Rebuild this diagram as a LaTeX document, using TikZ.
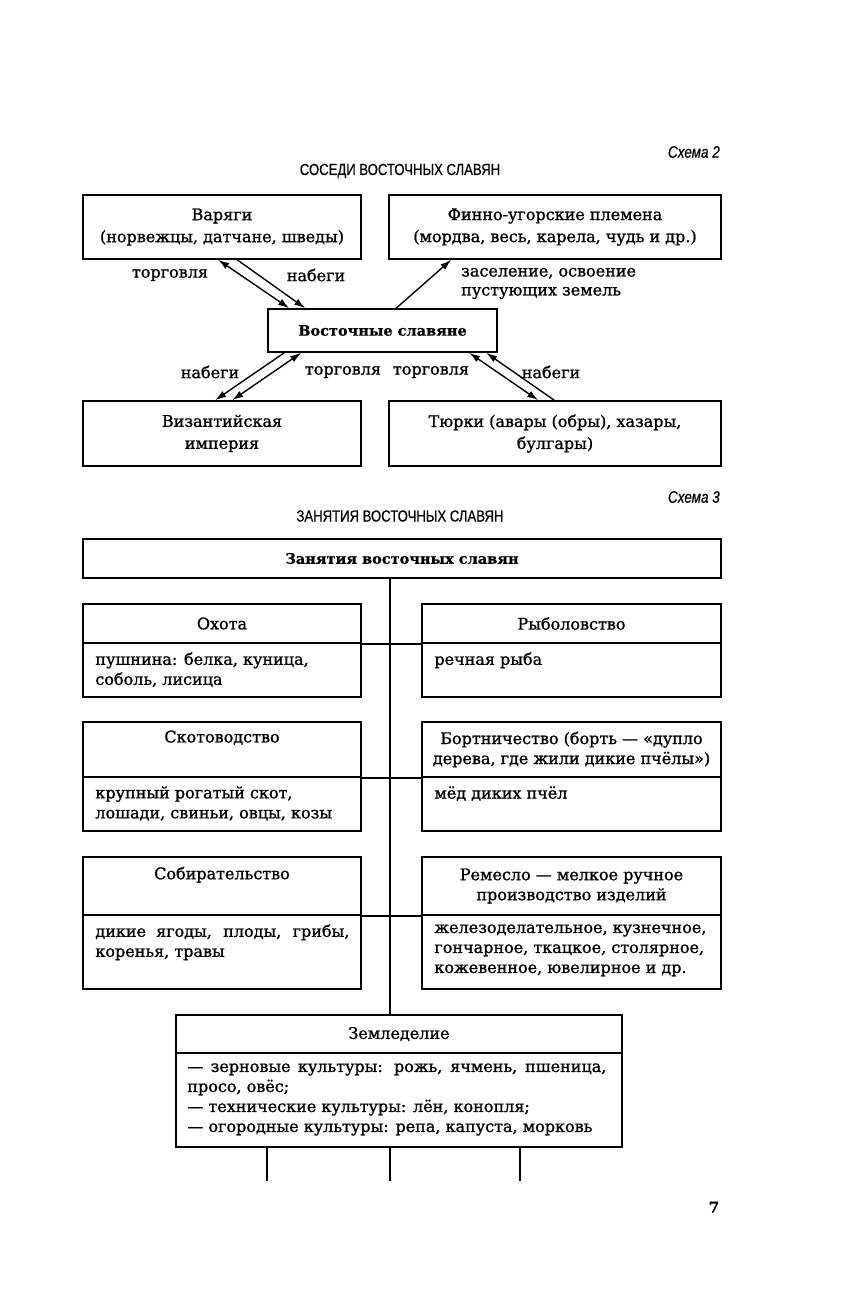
\documentclass[tikz,border=0pt]{standalone}
\usepackage{fontspec}
\setmainfont[FakeBold=1.2]{DejaVu Serif}
\newfontfamily\boldser[FakeBold=0.6]{DejaVu Serif Bold}
\newfontfamily\headfont[FakeStretch=0.82,FakeBold=0.6]{Liberation Sans}
\usetikzlibrary{arrows.meta,calc}
\begin{document}
\begin{tikzpicture}[x=1pt,y=-1pt,
  box/.style={draw, line width=1.6pt, inner sep=0pt, align=center,
    font=\fontsize{16}{20}\selectfont},
  btxt/.style={inner sep=0pt, align=left, anchor=north west,
    font=\fontsize{16}{20}\selectfont},
  bb/.style={font=\boldser\fontsize{14.5}{20}\selectfont},
  lbl/.style={inner sep=0pt, font=\fontsize{16}{19}\selectfont},
  ttl/.style={inner sep=0pt, font=\headfont\fontsize{16}{18}\selectfont},
  sch/.style={inner sep=0pt, anchor=east, font=\headfont\itshape\fontsize{16.5}{18}\selectfont},
  arr/.style={line width=1.4pt, -{Latex[length=11pt,width=7pt]}},
  darr/.style={line width=1.4pt, {Latex[length=11pt,width=7pt]}-{Latex[length=11pt,width=7pt]}},
  ln/.style={line width=1.6pt}
]
\useasboundingbox (0,0) rectangle (844,1310);

% ---------- Schema 2 ----------
\node[sch] (s2) at (720,152) {Схема 2};
\node[ttl] (t2) at (400,171) {СОСЕДИ ВОСТОЧНЫХ СЛАВЯН};

\node[box, minimum width=278pt, minimum height=64pt, font=\fontsize{16}{22}\selectfont] (var) at (222,227)
  {Варяги\\(норвежцы, датчане, шведы)};
\node[box, minimum width=332pt, minimum height=64pt, font=\fontsize{16}{22}\selectfont] (fin) at (555,227)
  {Финно-угорские племена\\(мордва, весь, карела, чудь и др.)};
\node[box, bb, minimum width=229pt, minimum height=43pt] (vs) at (382.5,330.5)
  {Восточные славяне};
\node[box, minimum width=278pt, minimum height=65pt, font=\fontsize{16}{22}\selectfont] (viz) at (222,433.5)
  {Византийская\\империя};
\node[box, minimum width=332pt, minimum height=65pt, font=\fontsize{16}{22}\selectfont] (tyu) at (555,433.5)
  {Тюрки (авары (обры), хазары,\\булгары)};

% arrows
\draw[darr] ([xshift=136pt]var.south west) -- ([xshift=22pt]vs.north west);
\draw[arr]  ([xshift=155pt]var.south west) -- ([xshift=38pt]vs.north west);
\draw[arr]  ([xshift=129pt]vs.north west) -- ([xshift=63pt]fin.south west);
\draw[arr]  ([xshift=17pt]vs.south west) -- ([xshift=133pt]viz.north west);
\draw[darr] ([xshift=34pt]vs.south west) -- ([xshift=150pt]viz.north west);
\draw[darr] ([xshift=202pt]vs.south west) -- ([xshift=150pt]tyu.north west);
\draw[arr]  ([xshift=166pt]tyu.north west) -- ([xshift=219pt]vs.south west);

\node[lbl] (l1) at (170,275) {торговля};
\node[lbl] (l2) at (316,275) {набеги};
\node[lbl, anchor=west, align=left] (l3) at (461,283.5) {заселение, освоение\\пустующих земель};
\node[lbl] (l4) at (210,372) {набеги};
\node[lbl] (l5) at (343,372) {торговля};
\node[lbl] (l6) at (431,372) {торговля};
\node[lbl] (l7) at (551,372) {набеги};

% ---------- Schema 3 ----------
\node[sch] (s3) at (720,497) {Схема 3};
\node[ttl] (t3) at (400,516) {ЗАНЯТИЯ ВОСТОЧНЫХ СЛАВЯН};

\node[box, bb, minimum width=638pt, minimum height=39pt] (zan) at (402,558.5) {Занятия восточных славян};

% Okhota
\node[box, minimum width=278pt, minimum height=39pt] (okhh) at (222,623.5) {Охота};
\node[box, minimum width=278pt, minimum height=54pt] (okhc) at (222,670) {};
\node[btxt] (okht) at ([xshift=13pt,yshift=-10pt]okhc.north west) {пушнина: белка, куница,\\соболь, лисица};
% Rybolovstvo
\node[box, minimum width=299pt, minimum height=39pt] (rybh) at (571.5,623.5) {Рыболовство};
\node[box, minimum width=299pt, minimum height=54pt] (rybc) at (571.5,670) {};
\node[btxt] (rybt) at ([xshift=13pt,yshift=-10pt]rybc.north west) {речная рыба};
% Skotovodstvo
\node[box, minimum width=278pt, minimum height=55pt] (skoh) at (222,749.5) {Скотоводство\\\strut};
\node[box, minimum width=278pt, minimum height=54pt] (skoc) at (222,804) {};
\node[btxt] (skot) at ([xshift=13pt,yshift=-10pt]skoc.north west) {крупный рогатый скот,\\лошади, свиньи, овцы, козы};
% Bortnichestvo
\node[box, minimum width=299pt, minimum height=55pt] (borh) at (571.5,749.5) {Бортничество (борть — «дупло\\дерева, где жили дикие пчёлы»)};
\node[box, minimum width=299pt, minimum height=54pt] (borc) at (571.5,804) {};
\node[btxt] (bort) at ([xshift=13pt,yshift=-10pt]borc.north west) {мёд диких пчёл};
% Sobiratelstvo
\node[box, minimum width=278pt, minimum height=58pt] (sobh) at (222,886) {Собирательство\\\strut};
\node[box, minimum width=278pt, minimum height=74pt] (sobc) at (222,952) {};
\node[btxt] (sobt) at ([xshift=13pt,yshift=-10pt]sobc.north west) {\makebox[254pt][s]{дикие ягоды, плоды, грибы,}\\коренья, травы};
% Remeslo
\node[box, minimum width=299pt, minimum height=58pt] (remh) at (571.5,886) {Ремесло — мелкое ручное\\производство изделий};
\node[box, minimum width=299pt, minimum height=74pt] (remc) at (571.5,952) {};
\node[btxt] (remt) at ([xshift=13pt,yshift=-10pt]remc.north west) {железоделательное, кузнечное,\\гончарное, ткацкое, столярное,\\кожевенное, ювелирное и др.};
% Zemledelie
\node[box, minimum width=446pt, minimum height=38pt] (zemh) at (399,1034) {Земледелие};
\node[box, minimum width=446pt, minimum height=94pt] (zemc) at (399,1100) {};
\node[btxt] (zemt) at ([xshift=12pt,yshift=-11pt]zemc.north west) {\makebox[419pt][s]{— зерновые культуры: рожь, ячмень, пшеница,}\\просо, овёс;\\— технические культуры: лён, конопля;\\— огородные культуры: репа, капуста, морковь};

% connectors
\draw[ln] ([xshift=308pt]zan.south west) -- ([xshift=215pt]zemh.north west);
\draw[ln] (okhh.south east) -- (rybh.south west);
\draw[ln] (skoh.south east) -- (borh.south west);
\draw[ln] (sobh.south east) -- (remh.south west);
\coordinate (e1) at ([xshift=92pt,yshift=-33pt]zemc.south west);
\coordinate (e2) at ([xshift=215pt,yshift=-33pt]zemc.south west);
\coordinate (e3) at ([xshift=345pt,yshift=-33pt]zemc.south west);
\draw[ln] ([xshift=92pt]zemc.south west) -- (e1);
\draw[ln] ([xshift=215pt]zemc.south west) -- (e2);
\draw[ln] ([xshift=345pt]zemc.south west) -- (e3);

\node[lbl, font=\boldser\fontsize{15}{18}\selectfont] (pg) at (714,1207) {7};
\end{tikzpicture}
\end{document}
